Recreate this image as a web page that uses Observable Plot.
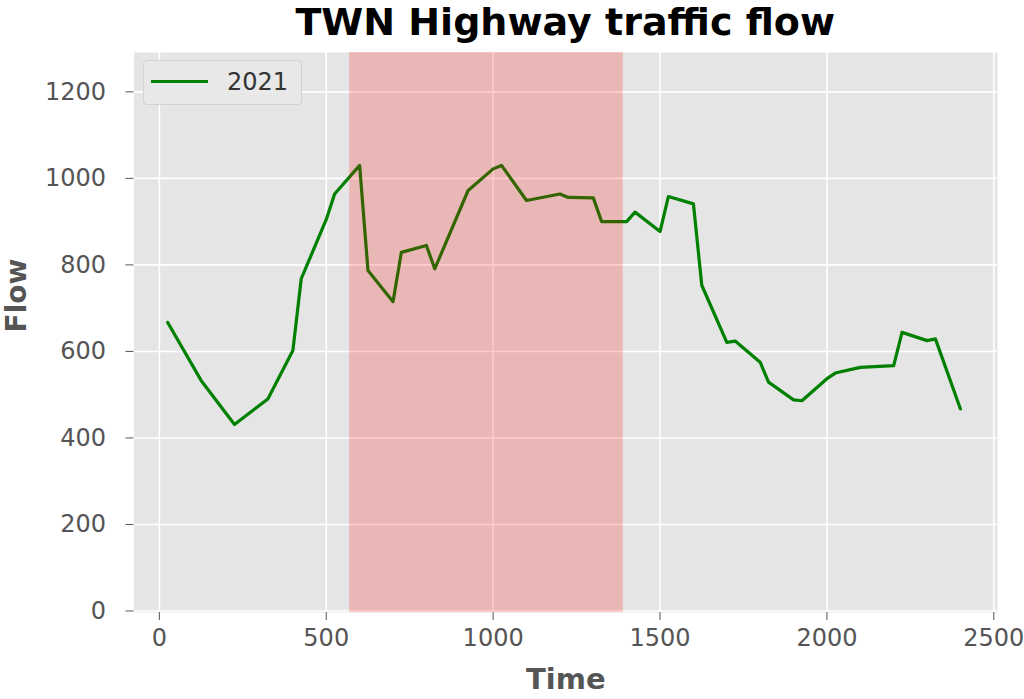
<!DOCTYPE html>
<html>
<head>
<meta charset="utf-8">
<script src="https://cdn.jsdelivr.net/npm/d3@7"></script>
<script src="https://cdn.jsdelivr.net/npm/@observablehq/plot@0.6"></script>
<style>
  html, body { margin: 0; padding: 0; background: #ffffff; }
  #wrap { position: relative; width: 1024px; height: 699px; overflow: hidden; font-family: "DejaVu Sans", sans-serif; }
  #title { height: 45px; padding-left: 133.5px; width: 863.5px; text-align: center; font-weight: bold; font-size: 38px; line-height: 45px; color: #000; white-space: nowrap; }
  #chart { position: absolute; left: 0; top: 45px; }
  #legend { position: absolute; left: 143px; top: 60px; width: 159px; height: 45px; box-sizing: border-box; background: rgba(232,232,232,0.9); border: 1px solid #d2d2d2; border-radius: 4px; }
  #legend .swatch { position: absolute; left: 7px; top: 19px; width: 57px; height: 3px; background: green; }
  #legend .lab { position: absolute; left: 83px; top: 6px; font-size: 24px; line-height: 30px; color: #333; }
  svg { display: block; }
</style>
</head>
<body>
<div id="wrap">
  <div id="title">TWN Highway traffic flow</div>
  <div id="chart"></div>
  <div id="legend"><div class="swatch"></div><div class="lab">2021</div></div>
</div>
<script>
// ---- data ----
const times = [25, 125, 225, 325, 400, 425, 500, 525, 600, 625, 700, 725, 800, 825, 925, 1000, 1025, 1100, 1200, 1225, 1300, 1325, 1400, 1425, 1500, 1525, 1600, 1625, 1700, 1725, 1800, 1825, 1900, 1925, 2000, 2025, 2100, 2200, 2225, 2300, 2325, 2400];
const flows = [667, 533, 431, 490, 602, 768, 905, 964, 1030, 787, 715, 829, 845, 791, 972, 1022, 1030, 949, 964, 956, 955, 900, 900, 922, 877, 958, 941, 753, 621, 624, 575, 529, 488, 486, 537, 550, 563, 567, 644, 625, 629, 467];
const seriesName = "2021";
const shadeStart = 570;
const shadeEnd = 1390;
const xTicks = [0, 500, 1000, 1500, 2000, 2500];
const yTicks = [0, 200, 400, 600, 800, 1000, 1200];

const rows = times.map((t, i) => ({time: t, flow: flows[i], series: seriesName}));
const shade = [{x1: shadeStart, x2: shadeEnd}];
const plain = d => String(d);

const chart = Plot.plot({
  width: 1024,
  height: 654,
  marginLeft: 133.5,
  marginRight: 27,
  marginTop: 7,
  marginBottom: 87,
  style: {fontFamily: "DejaVu Sans", fontSize: "24px", color: "#555555", background: "#ffffff", overflow: "visible"},
  x: {domain: [-76, 2511], label: null},
  y: {domain: [-3.5, 1291], label: null},
  marks: [
    Plot.frame({fill: "#E5E5E5", stroke: null}),
    Plot.gridX(xTicks, {stroke: "#ffffff", strokeOpacity: 1, strokeWidth: 1.6}),
    Plot.gridY(yTicks, {stroke: "#ffffff", strokeOpacity: 1, strokeWidth: 1.6}),
    Plot.line(rows, {x: "time", y: "flow", stroke: "green", strokeWidth: 3.2, strokeLinejoin: "round"}),
    Plot.rect(shade, {x1: "x1", x2: "x2", fill: "red", fillOpacity: 0.2}),
    Plot.axisX(xTicks, {tickSize: 8, tickPadding: 8, tickFormat: plain, stroke: "#555555", fill: "#555555", fontSize: 24, label: null}),
    Plot.axisY(yTicks, {tickSize: 8, tickPadding: 20, tickFormat: plain, stroke: "#555555", fill: "#555555", fontSize: 24, label: null}),
    Plot.text(["Time"], {frameAnchor: "bottom", dy: 67, lineAnchor: "middle", fontWeight: "bold", fontSize: 29, fill: "#555555"}),
    Plot.text(["Flow"], {frameAnchor: "left", dx: -116.5, rotate: -90, lineAnchor: "middle", fontWeight: "bold", fontSize: 28, fill: "#555555"})
  ]
});
document.getElementById("chart").appendChild(chart);
</script>
</body>
</html>
